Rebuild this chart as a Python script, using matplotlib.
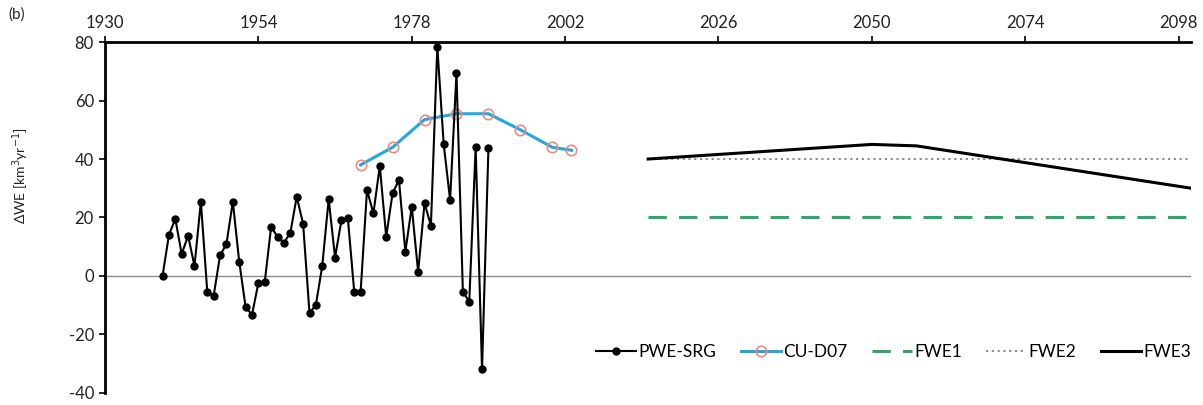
import matplotlib
matplotlib.use("Agg")
import matplotlib.pyplot as plt
import numpy as np

plt.rcParams['font.family'] = ['Lato', 'DejaVu Sans']
plt.rcParams['axes.unicode_minus'] = False

# PWE-SRG, yearly 1939-1990
pwe_years = np.arange(1939, 1991)
pwe_vals = [0, 14, 19.5, 7.5, 13.8, 3.4, 25.4, -5.4, -6.8, 7,
            10.9, 25.4, 4.9, -10.6, -13.3, -2.4, -2, 16.9, 13.3, 11.4,
            14.7, 27.1, 17.8, -12.7, -9.9, 3.5, 26.3, 6.3, 19.1, 19.8,
            -5.4, -5.4, 29.4, 21.4, 37.6, 13.4, 28.3, 32.8, 8.3, 23.7,
            1.3, 24.9, 17.2, 78.5, 45.1, 26, 69.3, -5.4, -8.8, 44,
            -32, 43.7]

# CU-D07
cu_years = [1970, 1975, 1980, 1985, 1990, 1995, 2000, 2003]
cu_vals = [38, 44, 53.5, 55.5, 55.5, 50, 44, 43]

# future scenarios
fwe_years = [2015, 2100]
fwe1_vals = [20, 20]
fwe2_vals = [40, 40]
fwe3_years = [2015, 2050, 2057, 2100]
fwe3_vals = [40, 45, 44.5, 30]

xticks = np.arange(1930, 2099, 24)
yticks = np.arange(-40, 81, 20)

fig = plt.figure(figsize=(12.03, 4.05), dpi=100)
ax = fig.add_axes([0.0873, 0.03, 0.903, 0.866])

ax.axhline(0, color='#8c8c8c', lw=1.0, zorder=1)

ax.plot(pwe_years, pwe_vals, '-o', color='black', lw=1.5, ms=5,
        label='PWE-SRG', zorder=4)
ax.plot(cu_years, cu_vals, '-o', color='#22a8e0', lw=2.2, ms=7.5,
        mfc='none', mec='#f08a80', mew=1.2, label='CU-D07', zorder=3)
ax.plot(fwe_years, fwe1_vals, color='#2ea86a', lw=2.2, dashes=(6, 4),
        label='FWE1', zorder=2)
ax.plot(fwe_years, fwe2_vals, color='#808080', lw=1.3, dashes=(1.2, 2),
        label='FWE2', zorder=2)
ax.plot(fwe3_years, fwe3_vals, color='black', lw=2.2, label='FWE3', zorder=3)

ax.set_xlim(1930, 2100)
ax.set_ylim(-40, 80)
ax.xaxis.tick_top()
ax.set_xticks(xticks)
ax.set_yticks(yticks)
ax.tick_params(axis='both', labelsize=12, length=4, width=1.2, color='black',
               labelcolor='#222222', direction='out', pad=4)

for s in ['right', 'bottom']:
    ax.spines[s].set_visible(False)
for s in ['left', 'top']:
    ax.spines[s].set_linewidth(2)

ax.set_ylabel('ΔWE [km$^3$yr$^{-1}$]', fontsize=10, color='#222222')
ax.yaxis.set_label_coords(-0.068, 0.62)

fig.text(0.007, 0.965, '(b)', fontsize=11, va='center', color='#222222')

ax.legend(loc='center right', bbox_to_anchor=(1.0, 0.117), ncol=5,
          frameon=False, fontsize=12.5, handlelength=2.3, handletextpad=0.15,
          columnspacing=1.4, borderaxespad=0, borderpad=0)

plt.savefig('out.png', dpi=100)
